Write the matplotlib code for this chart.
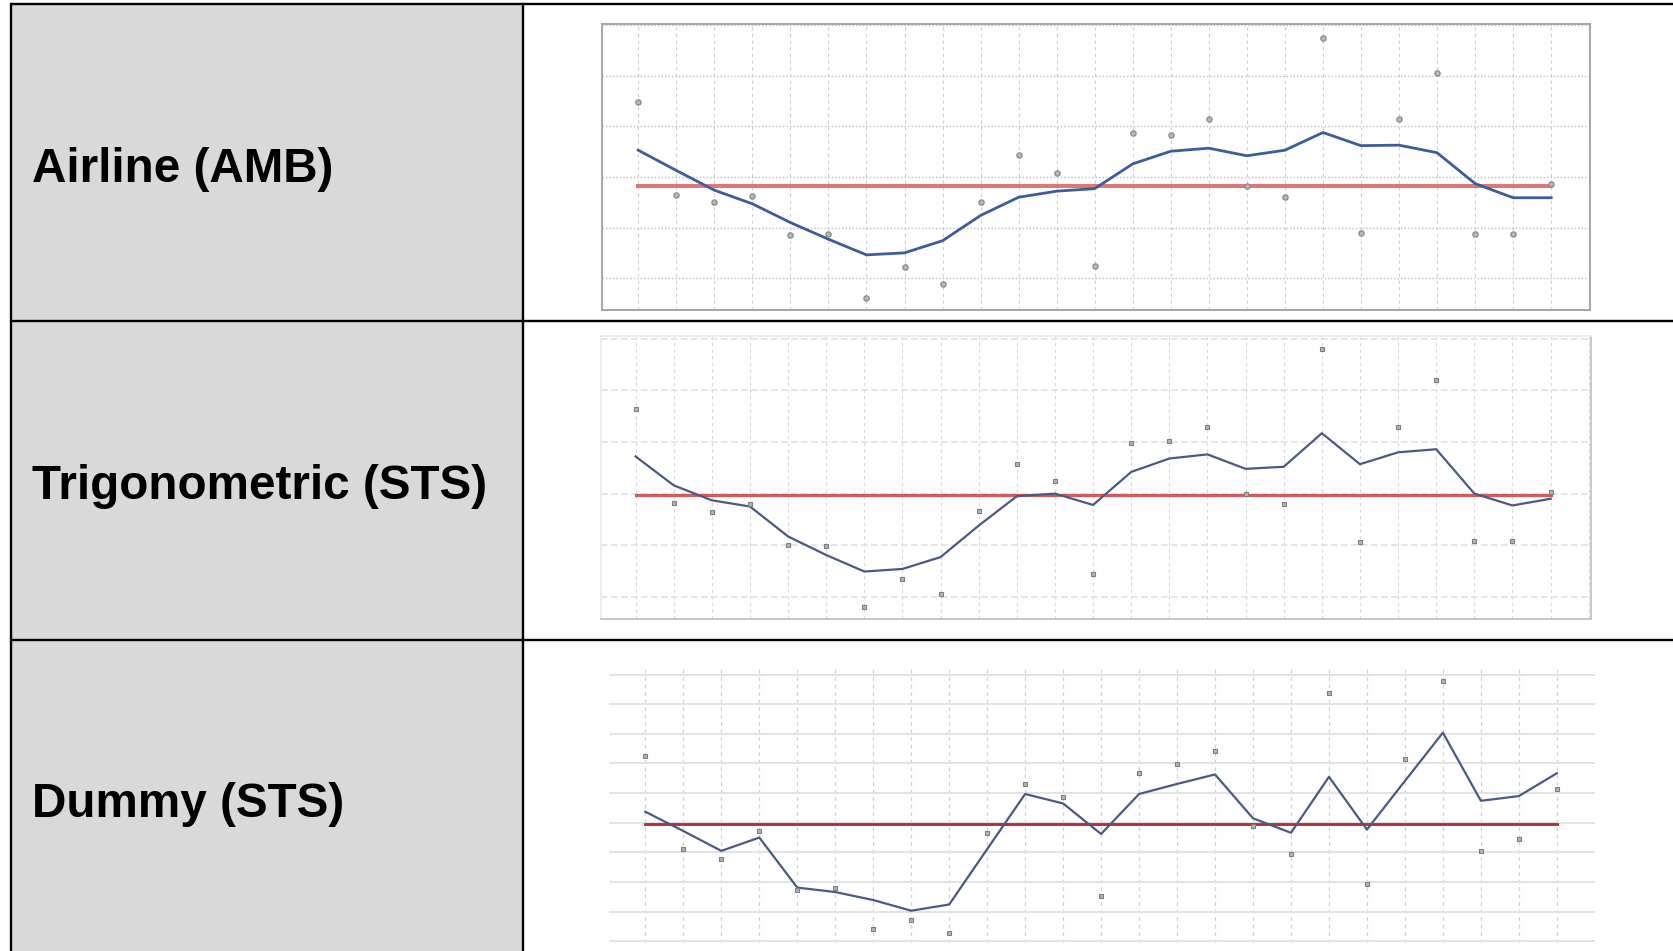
import numpy as np
import matplotlib
matplotlib.use('Agg')
import matplotlib.pyplot as plt

# Row labels of the table
labels = ['Airline (AMB)', 'Trigonometric (STS)', 'Dummy (STS)']

# Index of the observations (same for all panels)
x = np.arange(25)

# Airline (AMB)
airline_obs = [1.49, -0.36, -0.49, -0.38, -1.15, -1.13, -2.39, -1.77, -2.11, -0.50, 0.43, 0.07, -1.76,
               0.88, 0.84, 1.15, -0.17, -0.40, 2.74, -1.10, 1.15, 2.05, -1.13, -1.13, -0.13]
airline_fit = [0.53, 0.13, -0.26, -0.53, -0.90, -1.23, -1.54, -1.50, -1.26, -0.76, -0.40, -0.28, -0.23,
               0.26, 0.51, 0.57, 0.42, 0.53, 0.88, 0.62, 0.63, 0.48, -0.13, -0.41, -0.41]
airline_mean = -0.18

# Trigonometric (STS)
trig_obs = [1.63, -0.19, -0.35, -0.21, -0.99, -1.01, -2.19, -1.65, -1.95, -0.33, 0.57, 0.25, -1.56,
            0.99, 1.02, 1.30, 0.00, -0.21, 2.81, -0.93, 1.29, 2.21, -0.91, -0.91, 0.03]
trig_fit = [0.72, 0.16, -0.13, -0.25, -0.83, -1.19, -1.51, -1.46, -1.23, -0.62, -0.05, 0.00, -0.22,
            0.42, 0.68, 0.76, 0.48, 0.52, 1.17, 0.57, 0.80, 0.86, 0.00, -0.23, -0.10]
trig_mean = -0.03

# Dummy (STS)
dummy_obs = [2.26, -0.90, -1.23, -0.27, -2.28, -2.22, -3.60, -3.27, -3.71, -0.34, 1.31, 0.86, -2.47,
             1.69, 1.98, 2.42, -0.10, -1.04, 4.37, -2.08, 2.14, 4.79, -0.95, -0.55, 1.14]
dummy_fit = [0.37, -0.28, -0.95, -0.50, -2.19, -2.34, -2.61, -2.97, -2.76, -0.89, 0.97, 0.65, -0.38,
             0.97, 1.31, 1.63, 0.15, -0.34, 1.55, -0.23, 1.41, 3.04, 0.74, 0.90, 1.67]
dummy_mean = -0.03

W, H = 1673, 951
fig = plt.figure(figsize=(W / 100, H / 100), dpi=100)
fig.patch.set_facecolor('white')

# table background drawn in pixel coordinates
bg = fig.add_axes([0, 0, 1, 1])
bg.set_xlim(0, W)
bg.set_ylim(H, 0)
bg.axis('off')
left, top, mid = 10.7, 4.3, 523
rows = [4.3, 321, 640]
bg.fill_between([left, mid], top, H + 20, color='#d9d9d9', lw=0)
for y in rows:
    bg.plot([left, W + 10], [y, y], color='black', lw=1.7, solid_capstyle='butt')
bg.plot([left, left], [top, H + 10], color='black', lw=1.7)
bg.plot([mid, mid], [top, H + 10], color='black', lw=1.7)

baselines = [181.7, 499.3, 817.3]
for lab, yb in zip(labels, baselines):
    bg.text(32, yb, lab, fontsize=34.3, fontweight='bold', family=['Liberation Sans', 'DejaVu Sans'],
            va='baseline', ha='left', color='black')


def axes_px(x0, y0, x1, y1):
    return fig.add_axes([x0 / W, 1 - y1 / H, (x1 - x0) / W, (y1 - y0) / H])


def grid(ax, ylo, yhi, hcol, hstyle, hlw, vcol, vlw):
    for gx in range(-1, 26):
        ax.axvline(gx, color=vcol, lw=vlw, ls=(0, (3, 3)), zorder=0)
    for gy in range(int(np.floor(ylo)), int(np.ceil(yhi)) + 1):
        ax.axhline(gy, color=hcol, lw=hlw, ls=hstyle, zorder=0)


# panel 1 - Airline
ax1 = axes_px(601.7, 24.3, 1590, 310)
ax1.set_xlim(-0.96, 25.02)
ax1.set_ylim(-2.63, 3.02)
grid(ax1, -2.63, 3.02, '#bdbdbd', (0, (1, 1.5)), 1.0, '#d0d0d0', 0.8)
ax1.plot([0, 24], [airline_mean, airline_mean], color='#d9605c', lw=2.9, alpha=0.85, zorder=2)
ax1.plot(x, airline_fit, color='#3b5d9c', lw=2.0, zorder=3)
ax1.plot(x, airline_obs, ls='none', marker='o', ms=3.8, mfc='#b8b8b8', mec='#8a8a8a', mew=0.9, zorder=4)
for s in ax1.spines.values():
    s.set_color('#a6a6a6')
    s.set_linewidth(1.4)

# panel 2 - Trigonometric
ax2 = axes_px(600.5, 335.7, 1591.4, 619)
ax2.set_xlim(-0.92, 25.07)
ax2.set_ylim(-2.43, 3.06)
grid(ax2, -2.43, 3.06, '#e0e0e0', (0, (4, 2)), 1.2, '#d8d8d8', 0.8)
ax2.plot([0, 24], [trig_mean, trig_mean], color='#cc4a4a', lw=2.3, alpha=0.9, zorder=2)
ax2.plot(x, trig_fit, color='#4b5a85', lw=1.6, zorder=3)
ax2.plot(x, trig_obs, ls='none', marker='s', ms=3.3, mfc='#b5b5b5', mec='#7f7f7f', mew=0.8, zorder=4)
for k, s in ax2.spines.items():
    s.set_color('#c4c4c4')
    s.set_linewidth(1.3)
ax2.spines['top'].set_color('#ececec')
ax2.spines['left'].set_color('#ececec')

# panel 3 - Dummy
ax3 = axes_px(609.3, 669.3, 1594.8, 942.7)
ax3.set_xlim(-0.95, 25.0)
ax3.set_ylim(-4.05, 5.18)
grid(ax3, -4.05, 5.18, '#e3e3e3', '-', 1.4, '#d2d2d2', 0.9)
ax3.plot([0, 24], [dummy_mean, dummy_mean], color='#b52f3a', lw=2.1, zorder=2)
ax3.plot(x, dummy_fit, color='#4b5a85', lw=1.6, zorder=3)
ax3.plot(x, dummy_obs, ls='none', marker='s', ms=3.3, mfc='#b5b5b5', mec='#7f7f7f', mew=0.8, zorder=4)
for s in ax3.spines.values():
    s.set_visible(False)

for ax in (ax1, ax2, ax3):
    ax.set_xticks([])
    ax.set_yticks([])
    ax.set_facecolor('white')

fig.savefig('out.png', dpi=100, facecolor='white')
